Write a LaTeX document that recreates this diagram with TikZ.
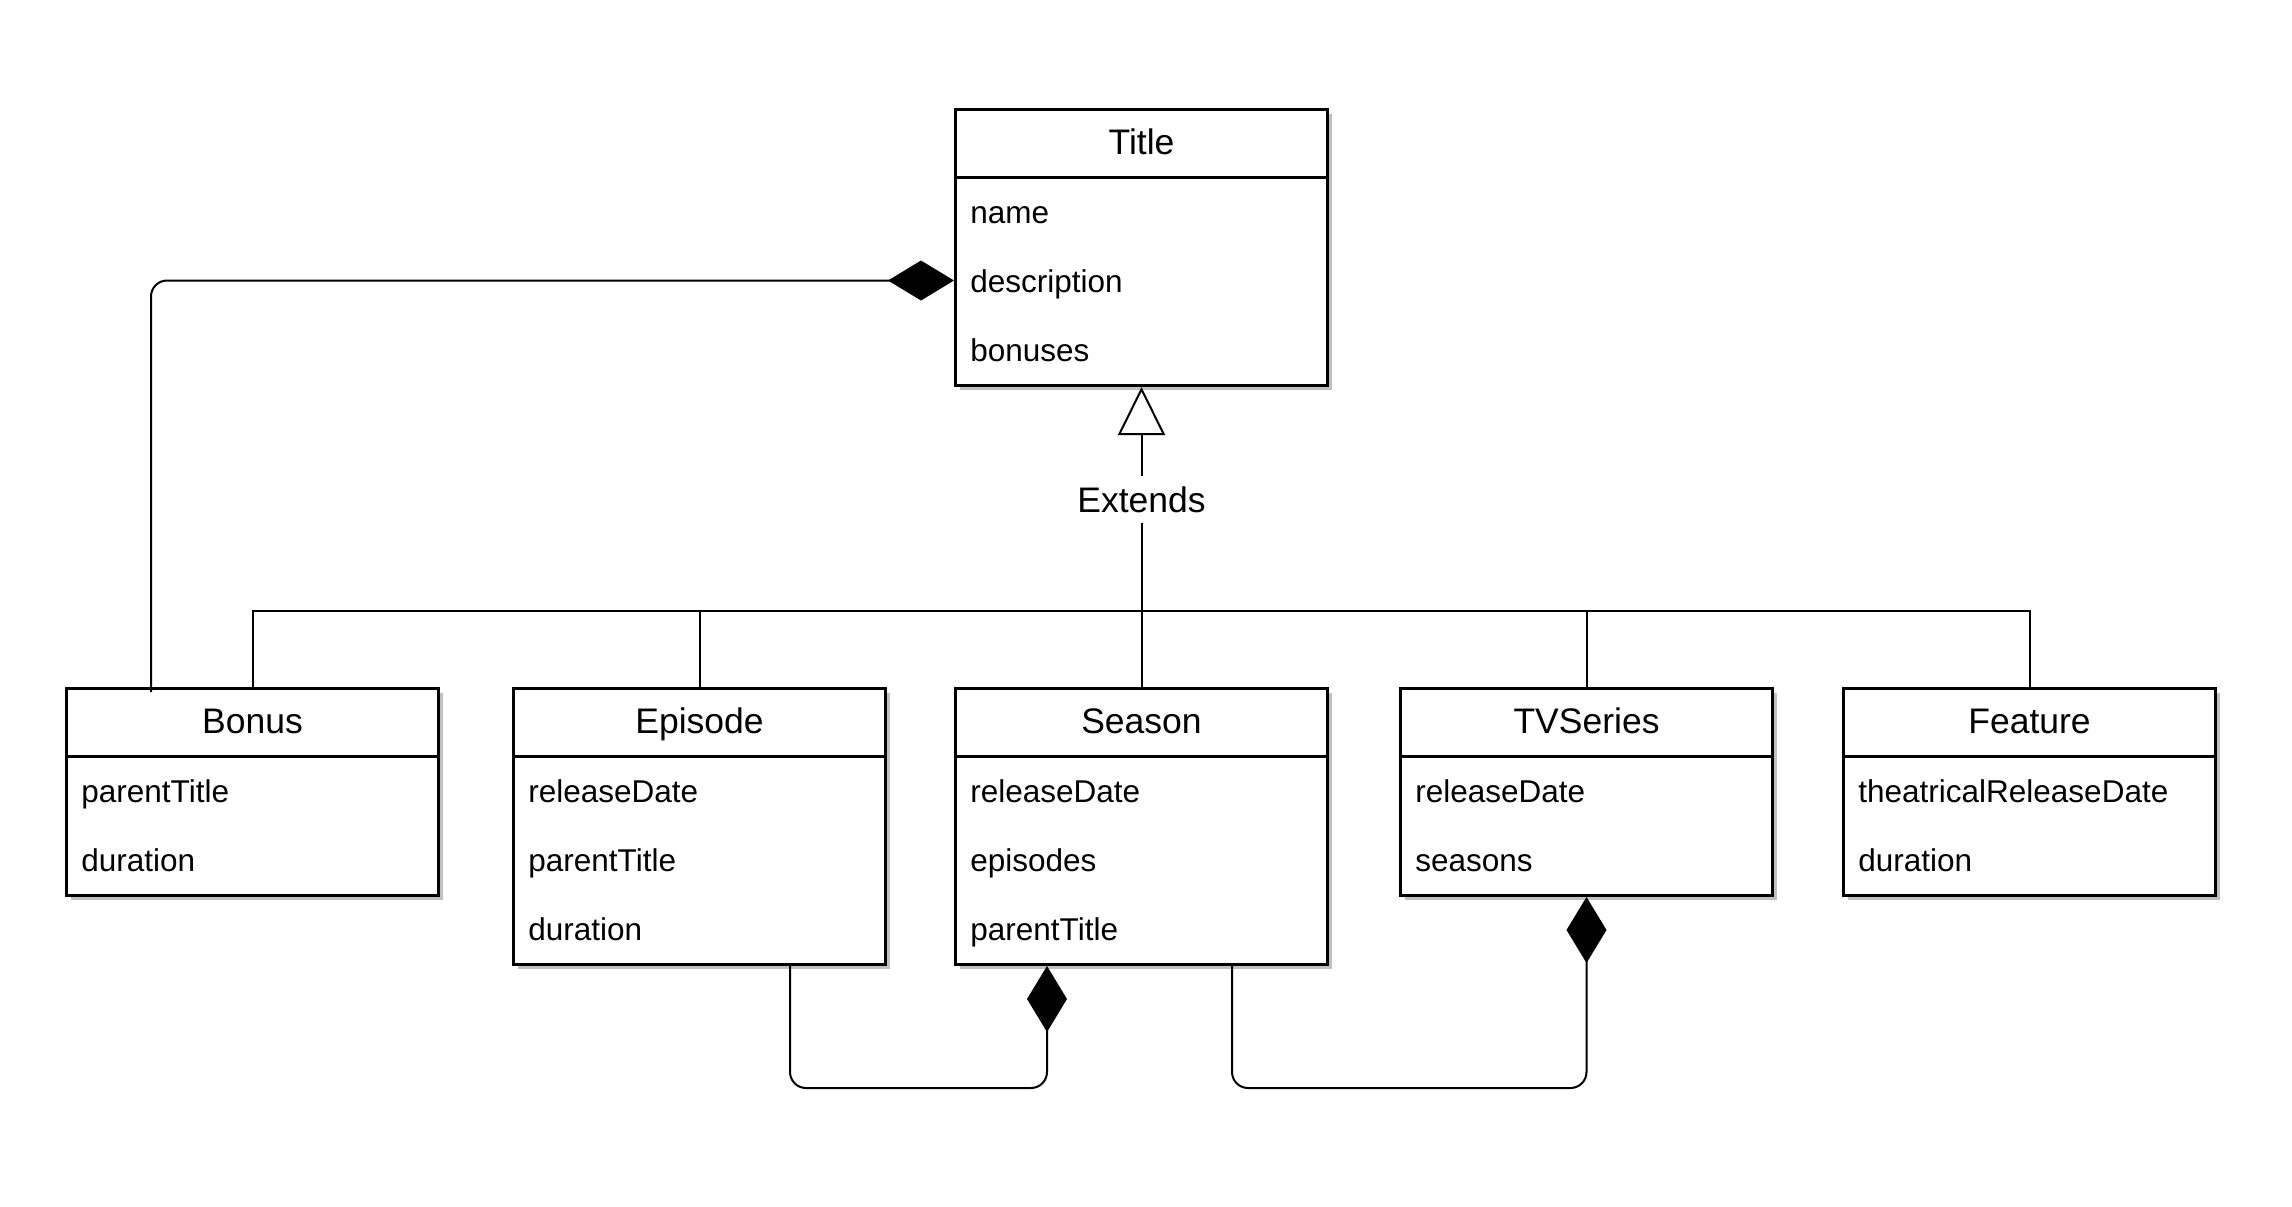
\documentclass[tikz,border=0pt]{standalone}
\usepackage{fontspec}
\setmainfont{Liberation Sans}
\usetikzlibrary{arrows.meta,calc}
\definecolor{shadowgray}{HTML}{C0C0C0}
\tikzset{
  box/.style={draw, line width=1.5pt, fill=white, inner sep=0pt, minimum width=186pt, anchor=north west},
  hdr/.style={font=\fontsize{17.75}{20}\selectfont, anchor=base, inner sep=0pt},
  attr/.style={font=\fontsize{15.75}{18}\selectfont, anchor=base west, inner sep=0pt},
  conn/.style={line width=1pt},
  comp/.style={conn, rounded corners=8pt, -{Diamond[length=33pt,width=20pt]}},
  gen/.style={conn, -{Triangle[open,length=24pt,width=23.5pt,fill=white]}},
  lbl/.style={font=\fontsize{17.75}{20}\selectfont, fill=white, inner xsep=2pt, inner ysep=5pt},
}
% #1 name, #2 left x, #3 top y, #4 number of rows, #5 title, #6 attributes
\newcommand{\umlclass}[6]{%
  \pgfmathsetmacro{\bh}{69*(#4+1)}%
  \pgfmathsetmacro{\bhpt}{\bh*0.5}%
  \fill[shadowgray] (#2+6,#3+6) rectangle ++(372,\bh);
  \node[box, minimum height=\bhpt pt] (#1) at (#2,#3) {};
  \draw[line width=1.5pt] ($(#1.north west)+(0,69)$) -- ($(#1.north east)+(0,69)$);
  \node[hdr] (#1-h) at ($(#1.north)+(0,46)$) {#5};
  \foreach \a [count=\i] in {#6} {\node[attr] (#1-a\i) at ($(#1.north west)+(16,46+69*\i)$) {\a};}
}
\begin{document}
\begin{tikzpicture}[x=0.5pt,y=-0.5pt]
\useasboundingbox[fill=white] (0,0) rectangle (2292,1206);

\umlclass{title}{954}{108}{3}{Title}{name,description,bonuses}
\umlclass{bonus}{65}{687}{2}{Bonus}{parentTitle,duration}
\umlclass{episode}{512}{687}{3}{Episode}{releaseDate,parentTitle,duration}
\umlclass{season}{954}{687}{3}{Season}{releaseDate,episodes,parentTitle}
\umlclass{tvseries}{1399}{687}{2}{TVSeries}{releaseDate,seasons}
\umlclass{feature}{1842}{687}{2}{Feature}{theatricalReleaseDate,duration}

% generalization
\coordinate (hub) at (1140,611);
\draw[gen] (season.north) -- node[lbl, pos=0.625] (ext) {Extends} (title.south);
\draw[conn] (bonus.north) |- (hub);
\draw[conn] (episode.north) |- (hub);
\draw[conn] (tvseries.north) |- (hub);
\draw[conn] (feature.north) |- (hub);

% compositions
\coordinate (tport) at ($(title.north west)+(0,172.5)$);
\coordinate (bstart) at ($(bonus.north west)+(86,5)$);
\draw[comp] (bstart) |- (tport);

\coordinate (ep1) at ($(episode.south west)+(278,0)$);
\coordinate (se1) at ($(season.south west)+(93,0)$);
\coordinate (se2) at ($(season.south west)+(278,0)$);
\coordinate (low1) at ($(se1)+(0,122)$);
\coordinate (low2) at ($(tvseries.south)+(0,191)$);
\draw[comp] (ep1) |- (low1) -- (se1);
\draw[comp] (se2) |- (low2) -- (tvseries.south);
\end{tikzpicture}
\end{document}
